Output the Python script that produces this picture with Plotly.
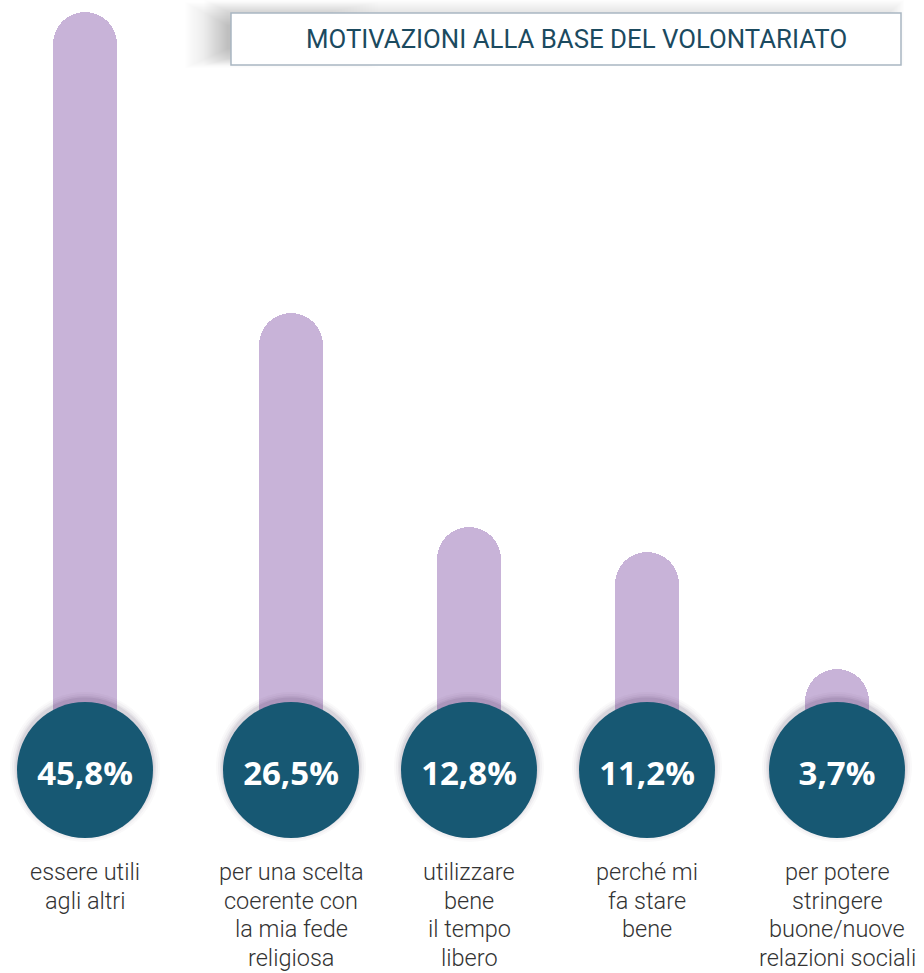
import plotly.graph_objects as go

# ---- data ----
categories = [
    "essere utili<br>agli altri",
    "per una scelta<br>coerente con<br>la mia fede<br>religiosa",
    "utilizzare<br>bene<br>il tempo<br>libero",
    "perché mi<br>fa stare<br>bene",
    "per potere<br>stringere<br>buone/nuove<br>relazioni sociali",
]
values = [45.8, 26.5, 12.8, 11.2, 3.7]
value_labels = ["45,8%", "26,5%", "12,8%", "11,2%", "3,7%"]
title_text = "MOTIVAZIONI ALLA BASE DEL VOLONTARIATO"

# ---- layout constants (pixels) ----
W, H = 924, 973
x_centers = [85, 291, 469, 647, 837]
bar_width = 64
base_px = 727          # pixel row of value 0
top_px = 12            # pixel row of max value
scale = (base_px - top_px) / max(values)
y_lo = -(H - base_px) / scale
y_hi = base_px / scale
circle_px = 770
circle_y = (base_px - circle_px) / scale
text_y = (base_px - (circle_px + 7)) / scale
circle_d = 136

BAR_COLOR = "#c8b3d8"
CIRCLE_COLOR = "#175873"
TEXT_COLOR = "#333333"

fig = go.Figure()

fig.add_trace(go.Bar(
    x=x_centers, y=values, width=bar_width,
    marker=dict(color=BAR_COLOR, cornerradius="50%", line=dict(width=0)),
    hoverinfo="skip", showlegend=False,
))

# soft shadow of circles (slightly above)
for extra, alpha in [(14, 0.025), (10, 0.035), (6, 0.05), (3, 0.07)]:
    fig.add_trace(go.Scatter(
        x=x_centers, y=[circle_y + 3 / scale] * len(values), mode="markers",
        marker=dict(size=circle_d + extra, color=f"rgba(30,20,50,{alpha})", line=dict(width=0)),
        hoverinfo="skip", showlegend=False,
    ))

fig.add_trace(go.Scatter(
    x=x_centers, y=[circle_y] * len(values), mode="markers",
    marker=dict(size=circle_d, color=CIRCLE_COLOR, line=dict(width=0)),
    hoverinfo="skip", showlegend=False,
))
fig.add_trace(go.Scatter(
    x=x_centers, y=[text_y] * len(values), mode="text",
    text=value_labels, textposition="middle center",
    textfont=dict(family="Open Sans, Roboto, sans-serif", size=33, color="white", weight=700),
    hoverinfo="skip", showlegend=False,
))

# category labels, one annotation per line for line spacing
line_h = 28.7
first_line_px = 872
for xc, cat in zip(x_centers, categories):
    for i, line in enumerate(cat.split("<br>")):
        py = first_line_px + i * line_h
        fig.add_annotation(
            x=xc, xref="x", y=1 - py / H, yref="paper",
            text=line, showarrow=False, xanchor="center", yanchor="middle",
            font=dict(family="Roboto, sans-serif", size=23.5, color=TEXT_COLOR, weight=300),
        )

# title box with soft shadow
bx0, bx1, by0, by1 = 231, 901, 13, 65
# faint overall shadow
for k in range(0, 24, 1):
    fig.add_shape(type="rect", xref="paper", yref="paper",
                  x0=(bx0 - 4 - k) / W, x1=(bx1 - 10 + k * 0.6) / W,
                  y0=1 - (by1 - 6 + k * 0.3) / H, y1=1 - (by0 - 2 - k * 0.5) / H,
                  fillcolor="rgba(0,0,0,0.004)", line=dict(width=0), layer="below")
# left blob
for k in range(0, 40, 1):
    fig.add_shape(type="rect", xref="paper", yref="paper",
                  x0=(bx0 - 4 - k * 1.1) / W, x1=(bx0 + 30 + k * 3) / W,
                  y0=1 - (by1 - 16 + k * 0.5) / H, y1=1 - (by0 + 12 - k * 0.6) / H,
                  fillcolor="rgba(0,0,0,0.005)", line=dict(width=0), layer="below")
fig.add_shape(type="rect", xref="paper", yref="paper",
              x0=bx0 / W, x1=bx1 / W, y0=1 - by1 / H, y1=1 - by0 / H,
              fillcolor="white", line=dict(color="#a9b6c2", width=1.5))
fig.add_annotation(
    x=576 / W, y=1 - (by0 + by1) / 2 / H, xref="paper", yref="paper",
    text=title_text, showarrow=False, xanchor="center", yanchor="middle",
    font=dict(family="Roboto, sans-serif", size=25.8, color="#1b4a5f"),
)

fig.update_layout(
    width=W, height=H,
    margin=dict(l=0, r=0, t=0, b=0),
    paper_bgcolor="white", plot_bgcolor="white",
    xaxis=dict(range=[0, W], visible=False, fixedrange=True),
    yaxis=dict(range=[y_lo, y_hi], visible=False, fixedrange=True),
    bargap=0,
)

fig.write_html("out.html", config={"displayModeBar": False},
               post_script="document.body.style.margin='0';document.body.style.overflow='hidden';")
